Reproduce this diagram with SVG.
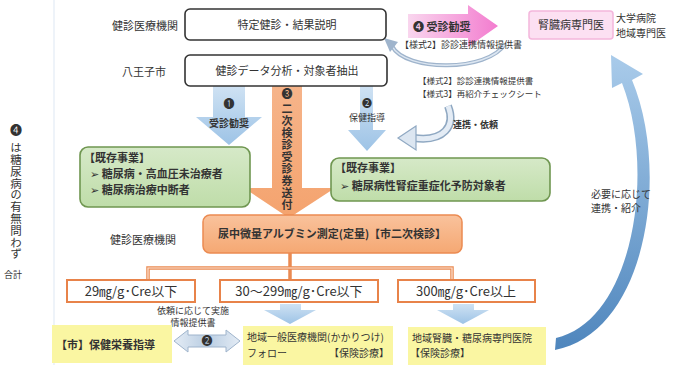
<svg xmlns="http://www.w3.org/2000/svg" width="682" height="365" viewBox="0 0 682 365">
<defs>
<linearGradient id="gBlue" x1="0" y1="0" x2="0" y2="1"><stop offset="0" stop-color="#CFE2F3"/><stop offset="1" stop-color="#9DC3E6"/></linearGradient>
<linearGradient id="gOrange" x1="0" y1="0" x2="0" y2="1"><stop offset="0" stop-color="#F6B48A"/><stop offset="1" stop-color="#F4A36E"/></linearGradient>
<linearGradient id="gPink" x1="0" y1="0" x2="1" y2="0"><stop offset="0" stop-color="#F9D6EE"/><stop offset="1" stop-color="#F37CCF"/></linearGradient>
<linearGradient id="gOBox" x1="0" y1="0" x2="0" y2="1"><stop offset="0" stop-color="#F9C29C"/><stop offset="1" stop-color="#F5A873"/></linearGradient>
<linearGradient id="gGreen" x1="0" y1="0" x2="0" y2="1"><stop offset="0" stop-color="#D6E9C8"/><stop offset="1" stop-color="#BFDDA9"/></linearGradient>
<linearGradient id="gBig" x1="0" y1="1" x2="0" y2="0"><stop offset="0" stop-color="#4F86BD"/><stop offset="1" stop-color="#A9CBEA"/></linearGradient>
<linearGradient id="gGray" x1="0" y1="0" x2="1" y2="0"><stop offset="0" stop-color="#E4ECF5"/><stop offset="0.5" stop-color="#B9CDE2"/><stop offset="1" stop-color="#E4ECF5"/></linearGradient>
</defs>
<style>
text{font-family:"Noto Sans CJK JP","DejaVu Sans",sans-serif;fill:#333;}
.lb{font-size:11px;}
.sm{font-size:9px;}
.xs{font-size:8.5px;}
.md{font-size:10px;}
.bx{fill:#fff;stroke:#333;stroke-width:1.6;}
.gr{fill:url(#gGreen);stroke:#6F9650;stroke-width:1.6;}
.tb{fill:#fff;stroke:#E8834A;stroke-width:2;}
.yl{fill:#FAF6A2;}
.bt{font-weight:bold;}
.c{text-anchor:middle;}
.e{text-anchor:end;}
.vt{writing-mode:vertical-rl;}
</style>

<line x1="54" y1="0" x2="54" y2="365" stroke="#EEF3F9" stroke-width="2"/>

<g id="left-note">
<text x="16" y="135" class="c" style="font-size:12px">❹</text>
<text x="16" y="142" class="vt" style="font-size:11.5px;letter-spacing:0.3px">は糖尿病の有無問わず</text>
<text x="4" y="278" style="font-size:9px">合計</text>
</g>

<g id="connectors">
<!-- arrow 1 -->
<polygon points="213,86 245,86 245,117 262,117 229,145 196,117 213,117" fill="url(#gBlue)"/>
<text x="229" y="108" class="c" style="font-size:11px">❶</text>
<text x="229" y="127" class="c bt" style="font-size:10px">受診勧奨</text>
<!-- arrow 3 -->
<polygon points="272,86 302,86 302,188 335,188 289,218 244,188 272,188" fill="url(#gOrange)"/>
<text x="287" y="98" class="c" style="font-size:11px">❸</text>
<text x="287" y="103" class="vt bt" style="font-size:11px;letter-spacing:1px">二次検診受診券送付</text>
<!-- arrow 2 -->
<polygon points="360,86 373,86 373,130 386,130 367,151 348,130 360,130" fill="url(#gBlue)"/>
<text x="367" y="107" class="c" style="font-size:10px">❷</text>
<text x="367" y="121" class="c sm">保健指導</text>
<!-- pink arrow 4 -->
<polygon points="408,14 468,14 468,5 498,26 468,47 468,38 408,38" fill="url(#gPink)"/>
<text x="413" y="31" class="bt" style="font-size:11px">❹ 受診勧奨</text>
<!-- U curve -->
<path d="M392,46 C405,72 488,72 505,44" fill="none" stroke="#9FB4CC" stroke-width="4"/>
<path d="M392,46 C405,72 488,72 505,44" fill="none" stroke="#DCE6F1" stroke-width="1.5"/>
<polygon points="384,38 398,42 390,52" fill="#9FB4CC"/>
<text x="400" y="48" class="sm">【様式2】診診連携情報提供書</text>
<!-- hook curve -->
<path d="M448,106 C456,126 444,142 414,138" fill="none" stroke="#8FA8C2" stroke-width="8"/>
<path d="M448,106 C456,126 444,142 414,138" fill="none" stroke="#E4ECF5" stroke-width="5"/>
<polygon points="416,126 398,138 416,150" fill="#DCE6F1" stroke="#8FA8C2" stroke-width="1.2"/>
<text x="418" y="84" class="xs">【様式2】診診連携情報提供書</text>
<text x="418" y="97" class="xs">【様式3】再紹介チェックシート</text>
<text x="453" y="128" class="sm bt">連携・依頼</text>
<!-- tree lines -->
<g fill="none" stroke="#EA8A52" stroke-width="3.5">
<path d="M290,253 V280"/>
<path d="M148,280 V268 H452 V280"/>
</g>
<g fill="none" stroke="#FCE4D6" stroke-width="1.2">
<path d="M148,280 V268 H452 V280"/>
</g>
<!-- small arrows -->
<polygon points="280,304 301,304 301,310 316,310 290,324 264,310 280,310" fill="url(#gBlue)"/>
<polygon points="453,304 474,304 474,310 489,310 463,324 437,310 453,310" fill="url(#gBlue)"/>
<!-- double arrow -->
<polygon points="174,341 188,330 188,335 226,335 226,330 240,341 226,352 226,347 188,347 188,352" fill="url(#gGray)" stroke="#9FB4CC" stroke-width="1"/>
<text x="207" y="345" class="c" style="font-size:11px">❷</text>
<text x="193" y="314" class="c sm">依頼に応じて実施</text>
<text x="193" y="326" class="c sm">情報提供書</text>
<!-- big curved arrow -->
<path d="M555,350 C648,332 670,170 632,80 L643,74 L611,55 L612,88 L622,83 C656,170 634,320 556,338 Z" fill="url(#gBig)"/>
<text x="591" y="198" class="md">必要に応じて</text>
<text x="591" y="212" class="md">連携・紹介</text>
</g>

<g id="n-top1">
<text x="178" y="30" class="lb e">健診医療機関</text>
<rect x="185" y="9" width="201" height="31" rx="5" class="bx"/>
<text x="287" y="29" class="lb c">特定健診・結果説明</text>
</g>
<g id="n-top2">
<text x="166" y="76" class="lb e">八王子市</text>
<rect x="185" y="55" width="202" height="31" rx="5" class="bx"/>
<text x="287" y="75" class="lb c">健診データ分析・対象者抽出</text>
</g>
<g id="n-kidney">
<rect x="529" y="11" width="84" height="28" rx="3" fill="#FCE0F2" stroke="#F4B6DC" stroke-width="1.5"/>
<text x="571" y="29" class="lb c">腎臓病専門医</text>
<text x="616" y="22" class="md">大学病院</text>
<text x="616" y="37" class="md">地域専門医</text>
</g>
<g id="n-green1">
<rect x="80" y="147" width="170" height="60" rx="8" class="gr"/>
<text x="84" y="162" class="lb bt">【既存事業】</text>
<text x="90" y="178" class="lb bt">➢  糖尿病・高血圧未治療者</text>
<text x="90" y="194" class="lb bt">➢  糖尿病治療中断者</text>
</g>
<g id="n-green2">
<rect x="331" y="158" width="219" height="43" rx="8" class="gr"/>
<text x="335" y="172" class="lb bt">【既存事業】</text>
<text x="340" y="190" class="lb bt">➢  糖尿病性腎症重症化予防対象者</text>
</g>
<g id="n-orange">
<text x="110" y="244" class="lb">健診医療機関</text>
<rect x="203" y="215" width="259" height="38" rx="7" fill="url(#gOBox)" stroke="#EB8B52" stroke-width="1.5"/>
<text x="332" y="238" class="lb c bt">尿中微量アルブミン測定(定量)【市二次検診】</text>
</g>
<g id="n-low">
<rect x="67" y="280" width="128" height="22" class="tb"/>
<text x="131" y="296" class="c" style="font-size:13px">29㎎/g･Cre以下</text>
</g>
<g id="n-mid">
<rect x="220" y="280" width="158" height="22" class="tb"/>
<text x="299" y="296" class="c" style="font-size:13px">30～299㎎/g･Cre以下</text>
</g>
<g id="n-high">
<rect x="398" y="280" width="137" height="22" class="tb"/>
<text x="466" y="296" class="c" style="font-size:13px">300㎎/g･Cre以上</text>
</g>
<g id="n-city">
<rect x="52" y="325" width="120" height="38" class="yl"/>
<text x="56" y="349" class="lb bt">【市】保健栄養指導</text>
</g>
<g id="n-general">
<rect x="243" y="326" width="150" height="39" class="yl"/>
<text x="247" y="341" class="md">地域一般医療機関(かかりつけ)</text>
<text x="247" y="357" class="md">フォロー</text>
<text x="389" y="357" class="md e">【保険診療】</text>
</g>
<g id="n-special">
<rect x="408" y="327" width="138" height="38" class="yl"/>
<text x="412" y="342" class="md">地域腎臓・糖尿病専門医院</text>
<text x="410" y="357" class="md">【保険診療】</text>
</g>
</svg>
